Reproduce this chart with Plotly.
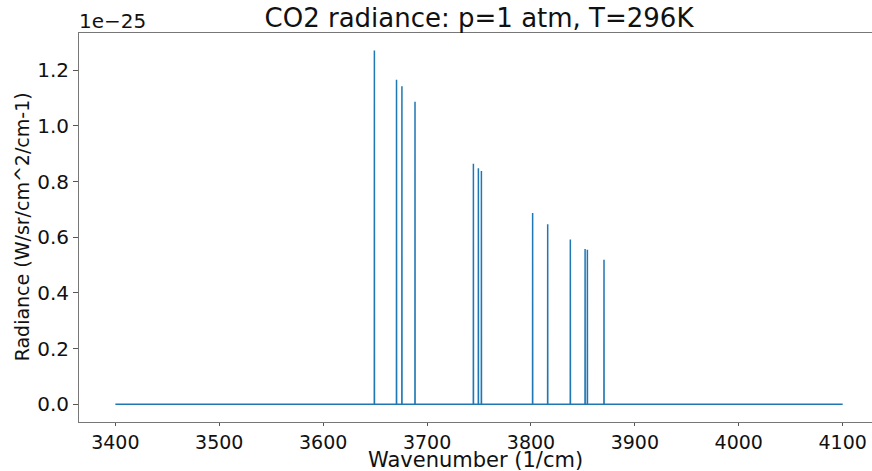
import plotly.graph_objects as go

# Spectral line centres (1/cm) and peak radiance (units of 1e-25 W/sr/cm^2/cm-1)
line_centres = [3649.3, 3670.6, 3675.8, 3688.4, 3744.6, 3749.4, 3752.3,
                3801.6, 3816.1, 3837.9, 3852.1, 3854.3, 3870.3]
peak_radiance = [1.271, 1.166, 1.142, 1.087, 0.864, 0.848, 0.838,
                 0.687, 0.647, 0.592, 0.558, 0.555, 0.519]
wn_start, wn_end = 3400.0, 4100.0
x_ticks = [3400, 3500, 3600, 3700, 3800, 3900, 4000, 4100]
y_ticks = [0.0, 0.2, 0.4, 0.6, 0.8, 1.0, 1.2]

# build the spectrum polyline from the line list
half_width = 0.08
xs = [wn_start]
ys = [0.0]
for c, v in zip(line_centres, peak_radiance):
    xs += [c - half_width, c, c + half_width]
    ys += [0.0, v, 0.0]
xs.append(wn_end)
ys.append(0.0)

font = "DejaVu Sans, sans-serif"
txt = "#111"
fig = go.Figure(go.Scatter(x=xs, y=ys, mode="lines",
                           line=dict(color="#1f77b4", width=1.5),
                           hoverinfo="skip"))

px_per_unit = 727.3 / 700.0
x0 = 3365.0
x1 = x0 + (872 - 79) / px_per_unit

fig.update_layout(
    width=872, height=471,
    margin=dict(l=79, r=0, t=33, b=49, autoexpand=False),
    paper_bgcolor="white", plot_bgcolor="white",
    showlegend=False,
    font=dict(family=font, size=20, color=txt),
    title=dict(text="CO2 radiance: p=1 atm, T=296K", x=479 / 872, xanchor="center",
               xref="container", y=1 - 18 / 471, yanchor="middle", yref="container",
               font=dict(family=font, size=26, color=txt)),
    xaxis=dict(range=[x0, x1], tickvals=x_ticks, ticks="outside", ticklen=3,
               tickcolor="#555", showline=True, linecolor="#777", linewidth=1,
               mirror=True, showgrid=False, zeroline=False, automargin=False,
               tickfont=dict(family=font, size=19, color=txt)),
    yaxis=dict(range=[-0.0635, 1.3335], tickvals=y_ticks, tickformat=".1f",
               ticks="outside", ticklen=5, tickcolor="#555",
               showline=True, linecolor="#777", linewidth=1, mirror=False,
               showgrid=False, zeroline=False, automargin=False,
               tickfont=dict(family=font, size=20, color=txt)),
    annotations=[
        dict(text="1e\u221225", x=0, xref="paper", xanchor="left", xshift=-2,
             y=1, yref="paper", yanchor="middle", yshift=12,
             showarrow=False, font=dict(family=font, size=20, color=txt)),
        dict(text="Wavenumber (1/cm)", x=0.5, xref="paper", xanchor="center",
             y=0, yref="paper", yanchor="middle", yshift=-38,
             showarrow=False, font=dict(family=font, size=21, color=txt)),
        dict(text="Radiance (W/sr/cm^2/cm-1)", x=0, xref="paper", xanchor="center",
             xshift=-57, y=(404.3 - 227.5) / 388.7 + (422 - 404.3) / 388.7,
             yref="paper", yanchor="middle", textangle=-90,
             showarrow=False, font=dict(family=font, size=19, color=txt)),
    ],
)

fig.write_html("out.html",
               config={"displayModeBar": False},
               post_script="document.body.style.margin='0px';"
                           "document.body.style.overflow='hidden';")
